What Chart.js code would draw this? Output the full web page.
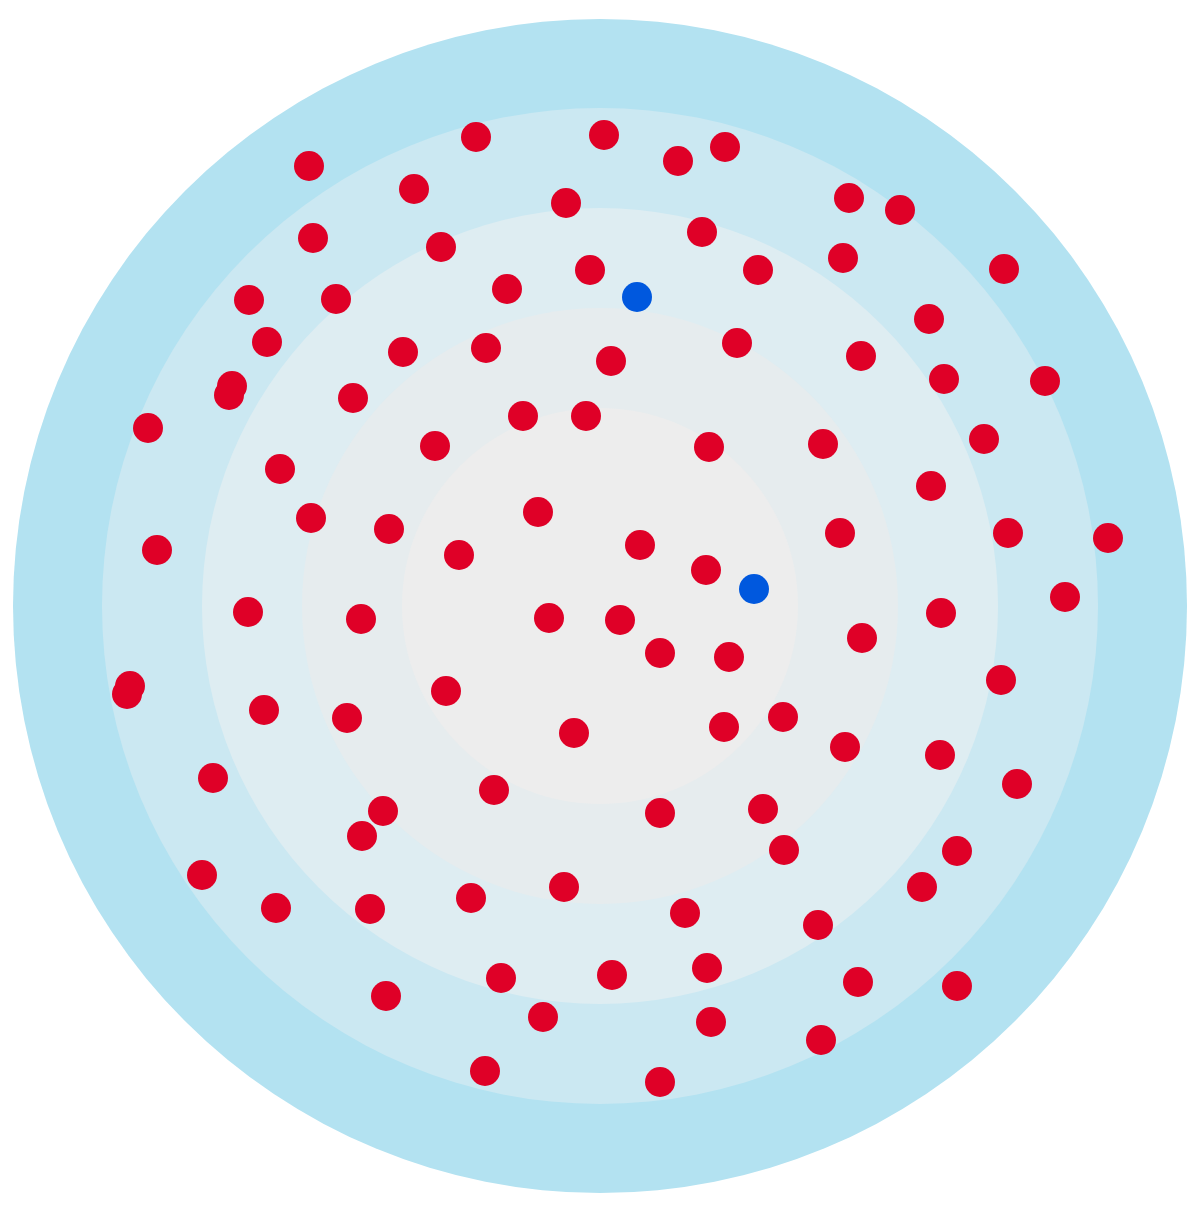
<!DOCTYPE html>
<html lang="en">
<head>
    <meta charset="UTF-8">
    <title>Target dots</title>
    <script src="https://cdn.jsdelivr.net/npm/chart.js"></script>
    <style>
        html, body { margin: 0; padding: 0; background: #ffffff; }
    </style>
</head>
<body>
    <canvas id="myChart" width="1196" height="1208"></canvas>
    <script>
        const ctx = document.getElementById('myChart').getContext('2d');

        // Ring radii (same units as the points, centre = 0,0), outer to inner
        const ringRadii = [587, 498, 398, 298, 198];

        // Red points
        const redX = [
            -291, -124, -186, -287, -159, -34, -351, -264, -93, -10,
            -333, -197, -114, -368, -371, -247, -452, -77, -14, -165,
            -320, -289, -211, -141, -62, -443,
            4, 78, 125, 249, 300, 102, 243, 404, 158, 329,
            137, 11, 261, 344, 445, 384, 109, 223, 331, 40,
            106, 240, 408, 508, 465,
            -352, -239, -51, -470, -473, -336, -253, -154, -26, -387,
            -106, -217, -238, -398, -324, -230, -129, -36, -99, -214,
            -57, -115,
            20, 60, 129, 262, 341, 401, 124, 183, 245, 340,
            417, 60, 163, 184, 357, 322, 85, 218, 12, 107,
            258, 357, 111, 221, 60
        ];
        const redY = [
            440, 469, 417, 368, 359, 403, 306, 307, 317, 336,
            264, 254, 258, 220, 211, 208, 178, 190, 190, 160,
            137, 88, 77, 51, 94, 56,
            471, 445, 459, 408, 396, 374, 348, 337, 336, 287,
            263, 245, 250, 227, 225, 167, 159, 162, 120, 61,
            36, 73, 73, 68, 9,
            -6, -13, -12, -80, -88, -104, -112, -85, -127, -172,
            -184, -205, -230, -269, -302, -303, -292, -281, -372, -390,
            -411, -465,
            -14, -47, -51, -32, -7, -74, -121, -111, -141, -149,
            -178, -207, -203, -244, -245, -281, -307, -319, -369, -362,
            -376, -380, -416, -434, -476
        ];

        // Blue points
        const blueX = [37, 154];
        const blueY = [309, 17];

        const ringColors = ['#b3e2f1', '#cbe8f2', '#deedf2', '#e6ecee', '#ededed'];

        const toPoints = (xs, ys) => xs.map((x, i) => ({ x: x, y: ys[i] }));

        // Concentric rings drawn through the scales, behind the points
        const ringsPlugin = {
            id: 'rings',
            beforeDatasetsDraw(chart) {
                const c = chart.ctx;
                const xs = chart.scales.x;
                const ys = chart.scales.y;
                const cx = xs.getPixelForValue(0);
                const cy = ys.getPixelForValue(0);
                c.save();
                ringRadii.forEach((r, i) => {
                    const rp = xs.getPixelForValue(r) - cx;
                    c.beginPath();
                    c.arc(cx, cy, rp, 0, Math.PI * 2);
                    c.fillStyle = ringColors[i];
                    c.fill();
                });
                c.restore();
            }
        };

        new Chart(ctx, {
            type: 'scatter',
            data: {
                datasets: [
                    {
                        label: 'Red',
                        data: toPoints(redX, redY),
                        backgroundColor: '#df0027',
                        pointRadius: 15,
                        pointHoverRadius: 15,
                        borderWidth: 0
                    },
                    {
                        label: 'Blue',
                        data: toPoints(blueX, blueY),
                        backgroundColor: '#0058de',
                        pointRadius: 15,
                        pointHoverRadius: 15,
                        borderWidth: 0
                    }
                ]
            },
            options: {
                responsive: false,
                maintainAspectRatio: false,
                animation: false,
                layout: { padding: 0, autoPadding: false },
                scales: {
                    x: { type: 'linear', min: -600, max: 596, display: false },
                    y: { type: 'linear', min: -602, max: 606, display: false }
                },
                plugins: {
                    legend: { display: false },
                    tooltip: { enabled: false }
                }
            },
            plugins: [ringsPlugin]
        });
    </script>
</body>
</html>
